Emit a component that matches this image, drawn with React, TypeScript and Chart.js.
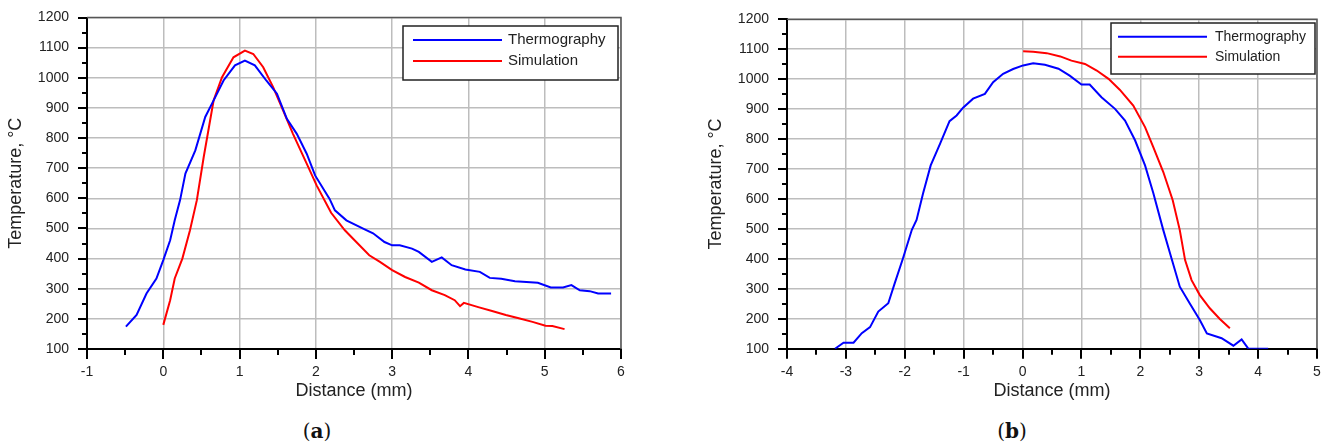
import React, { useEffect, useRef } from 'react';
import { Chart, registerables } from 'chart.js';

Chart.register(...registerables);

// ---------- data ----------
const seriesLabels = ['Thermography', 'Simulation'];
const xAxisTitle = 'Distance (mm)';
const yAxisTitle = 'Temperature, °C';
const captions = ['a', 'b'];

// Panel (a)
const thermoA_x = [-0.49, -0.35, -0.22, -0.09, 0.0, 0.09, 0.15, 0.22, 0.29, 0.42, 0.55, 0.66, 0.79, 0.94, 1.07, 1.2, 1.35, 1.49, 1.62, 1.75, 1.88, 1.99, 2.18, 2.25, 2.4, 2.64, 2.75, 2.9, 3.0, 3.1, 3.26, 3.35, 3.52, 3.65, 3.78, 3.96, 4.15, 4.28, 4.43, 4.61, 4.91, 5.08, 5.24, 5.35, 5.46, 5.59, 5.7, 5.87];
const thermoA_y = [174, 213, 284, 334, 395, 461, 527, 594, 682, 759, 870, 925, 991, 1041, 1057, 1041, 991, 947, 864, 814, 748, 676, 598, 560, 527, 497, 484, 455, 444, 444, 433, 422, 389, 404, 378, 364, 356, 336, 333, 325, 320, 304, 304, 312, 295, 292, 284, 284];
const simA_x = [0.0, 0.09, 0.15, 0.25, 0.35, 0.44, 0.53, 0.66, 0.77, 0.92, 1.07, 1.18, 1.31, 1.44, 1.57, 1.7, 1.88, 2.01, 2.2, 2.38, 2.53, 2.7, 2.84, 3.0, 3.17, 3.35, 3.52, 3.69, 3.82, 3.89, 3.94, 4.14, 4.31, 4.49, 4.66, 4.84, 5.01, 5.1, 5.26];
const simA_y = [180, 262, 334, 400, 494, 594, 737, 925, 1002, 1068, 1090, 1079, 1035, 969, 892, 814, 715, 643, 552, 494, 455, 411, 389, 362, 339, 320, 295, 279, 262, 242, 253, 238, 226, 213, 202, 190, 177, 176, 166];

// Panel (b)
const thermoB_x = [-3.185, -3.04, -2.87, -2.73, -2.59, -2.45, -2.28, -2.17, -2.03, -1.88, -1.8, -1.69, -1.56, -1.4, -1.24, -1.12, -1.01, -0.84, -0.64, -0.5, -0.33, -0.16, 0.01, 0.18, 0.38, 0.61, 0.8, 1.0, 1.14, 1.34, 1.57, 1.74, 1.91, 2.08, 2.22, 2.39, 2.53, 2.67, 2.84, 3.01, 3.13, 3.38, 3.58, 3.72, 3.83, 4.17];
const thermoB_y = [100, 120, 120, 152, 172, 224, 252, 319, 402, 497, 530, 618, 712, 785, 860, 879, 905, 935, 951, 990, 1018, 1034, 1046, 1053, 1048, 1035, 1012, 982, 982, 940, 901, 862, 796, 712, 620, 496, 401, 307, 251, 196, 151, 135, 110, 131, 101, 100];
const simB_x = [0.01, 0.18, 0.41, 0.64, 0.83, 1.06, 1.26, 1.46, 1.65, 1.88, 2.08, 2.22, 2.39, 2.55, 2.67, 2.76, 2.87, 3.01, 3.18, 3.35, 3.52];
const simB_y = [1093, 1092, 1087, 1076, 1062, 1051, 1029, 1001, 965, 912, 840, 773, 690, 596, 496, 396, 329, 279, 235, 199, 168];

// Axis ranges
const xRangeA = [-1, 6];
const xRangeB = [-4, 5];
const yRange = [100, 1200];

// ---------- styling ----------
const FONT = '"Liberation Sans", Arial, sans-serif';
const TEXT = '#222222';
const GRID = '#bdbdbd';

const toPoints = (xs: number[], ys: number[]) => xs.map((x, i) => ({ x, y: ys[i] }));

const framePlugin = {
  id: 'frameTicks',
  afterDraw(chart: any) {
    const { ctx, chartArea: a, scales } = chart;
    const x = scales.x;
    const y = scales.y;
    ctx.save();
    ctx.strokeStyle = '#555555';
    ctx.lineWidth = 1.5;
    ctx.beginPath();
    ctx.moveTo(a.left, a.top);
    ctx.lineTo(a.right, a.top);
    ctx.lineTo(a.right, a.bottom);
    ctx.stroke();
    ctx.strokeStyle = '#000000';
    ctx.lineWidth = 2;
    ctx.beginPath();
    for (let v = x.min; v <= x.max + 1e-9; v += 0.5) {
      const px = Math.round(x.getPixelForValue(v));
      const major = Math.abs(v - Math.round(v)) < 1e-9;
      ctx.moveTo(px, a.bottom);
      ctx.lineTo(px, a.bottom + (major ? 10 : 6));
    }
    for (let v = y.min; v <= y.max + 1e-9; v += 50) {
      const py = Math.round(y.getPixelForValue(v));
      const major = v % 100 === 0;
      ctx.moveTo(a.left - (major ? 9 : 5), py);
      ctx.lineTo(a.left, py);
    }
    ctx.stroke();
    ctx.restore();
  },
};

const boxLegendPlugin = {
  id: 'boxLegend',
  afterDraw(chart: any, _args: any, o: any) {
    const { ctx, chartArea: a } = chart;
    const left = a.right - o.rightInset - o.width;
    const top = a.top + o.topInset;
    ctx.save();
    ctx.fillStyle = '#ffffff';
    ctx.fillRect(left, top, o.width, o.height);
    ctx.strokeStyle = '#222222';
    ctx.lineWidth = 1.5;
    ctx.strokeRect(left, top, o.width, o.height);
    chart.data.datasets.forEach((ds: any, i: number) => {
      const yy = top + o.firstRow + i * o.rowGap;
      ctx.strokeStyle = ds.borderColor;
      ctx.lineWidth = 2;
      ctx.beginPath();
      ctx.moveTo(left + o.lineStart, yy);
      ctx.lineTo(left + o.lineEnd, yy);
      ctx.stroke();
      ctx.fillStyle = TEXT;
      ctx.font = `${o.fontSize}px ${FONT}`;
      ctx.textBaseline = 'middle';
      ctx.textAlign = 'left';
      ctx.fillText(ds.label, left + o.textX, yy);
    });
    ctx.restore();
  },
};

type Panel = {
  tx: number[]; ty: number[]; sx: number[]; sy: number[];
  xRange: number[];
  layout: { left: number; right: number; top: number; xH: number; yW: number };
  legend: any;
};

function makeConfig(p: Panel): any {
  return {
    type: 'line',
    data: {
      datasets: [
        { label: seriesLabels[0], data: toPoints(p.tx, p.ty), borderColor: '#0000ff', backgroundColor: '#0000ff', borderWidth: 2, pointRadius: 0, tension: 0, fill: false },
        { label: seriesLabels[1], data: toPoints(p.sx, p.sy), borderColor: '#ff0000', backgroundColor: '#ff0000', borderWidth: 2, pointRadius: 0, tension: 0, fill: false },
      ],
    },
    options: {
      animation: false,
      responsive: false,
      devicePixelRatio: 1,
      events: [],
      layout: { padding: { left: p.layout.left, right: p.layout.right, top: p.layout.top, bottom: 0 } },
      plugins: {
        legend: { display: false },
        tooltip: { enabled: false },
        boxLegend: p.legend,
      },
      scales: {
        x: {
          type: 'linear',
          min: p.xRange[0],
          max: p.xRange[1],
          ticks: { stepSize: 1, padding: 0, color: TEXT, font: { family: FONT, size: 14 }, autoSkip: false, maxRotation: 0, callback: (v: any) => String(v) },
          grid: { color: GRID, lineWidth: 1.5, drawTicks: true, tickLength: 14.6, tickColor: 'rgba(0,0,0,0)' },
          border: { color: '#000000', width: 2 },
          title: { display: true, text: xAxisTitle, color: TEXT, font: { family: FONT, size: 18 }, padding: { top: 0, bottom: 8.2 } },
          afterFit: (s: any) => { s.height = p.layout.xH; },
        },
        y: {
          type: 'linear',
          min: yRange[0],
          max: yRange[1],
          ticks: { stepSize: 100, padding: 0, color: TEXT, font: { family: FONT, size: 14 }, autoSkip: false, callback: (v: any) => String(v) },
          grid: { color: GRID, lineWidth: 1.5, drawTicks: true, tickLength: 18, tickColor: 'rgba(0,0,0,0)' },
          border: { color: '#000000', width: 2 },
          title: { display: true, text: yAxisTitle, color: TEXT, font: { family: FONT, size: 18 }, padding: { top: 5.2, bottom: 0 } },
          afterFit: (s: any) => { s.width = p.layout.yW; },
        },
      },
    },
    plugins: [framePlugin, boxLegendPlugin],
  };
}

const panels: Panel[] = [
  {
    tx: thermoA_x, ty: thermoA_y, sx: simA_x, sy: simA_y, xRange: xRangeA,
    layout: { left: 0, right: 43, top: 17.5, xH: 61, yW: 87 },
    legend: { width: 215, height: 54, rightInset: 3, topInset: 8.5, firstRow: 14, rowGap: 21, lineStart: 10, lineEnd: 99, textX: 105, fontSize: 15 },
  },
  {
    tx: thermoB_x, ty: thermoB_y, sx: simB_x, sy: simB_y, xRange: xRangeB,
    layout: { left: 36, right: 11, top: 19.3, xH: 61.3, yW: 87 },
    legend: { width: 204, height: 51, rightInset: 2, topInset: 3.7, firstRow: 13.7, rowGap: 20, lineStart: 7, lineEnd: 96, textX: 104, fontSize: 14 },
  },
];

const W = 664;
const H = 410;

function ChartPanel({ panel, left }: { panel: Panel; left: number }) {
  const ref = useRef<HTMLCanvasElement>(null);
  useEffect(() => {
    const chart = new Chart(ref.current as HTMLCanvasElement, makeConfig(panel));
    return () => chart.destroy();
  }, [panel]);
  return (
    <div style={{ position: 'absolute', left, top: 0, width: W, height: H }}>
      <canvas ref={ref} width={W} height={H} style={{ width: W, height: H, display: 'block' }} />
    </div>
  );
}

function Caption({ letter, center }: { letter: string; center: number }) {
  return (
    <div
      style={{
        position: 'absolute',
        left: center - 50,
        width: 100,
        top: 418,
        textAlign: 'center',
        fontFamily: '"DejaVu Serif", "Liberation Serif", serif',
        fontSize: 20,
        lineHeight: '26px',
        color: '#111',
      }}
    >
      (<b>{letter}</b>)
    </div>
  );
}

export default function App() {
  return (
    <div style={{ position: 'absolute', left: 0, top: 0, width: 1328, height: 447, background: '#fff', overflow: 'hidden' }}>
      <ChartPanel panel={panels[0]} left={0} />
      <ChartPanel panel={panels[1]} left={664} />
      <Caption letter={captions[0]} center={317} />
      <Caption letter={captions[1]} center={1012} />
    </div>
  );
}
